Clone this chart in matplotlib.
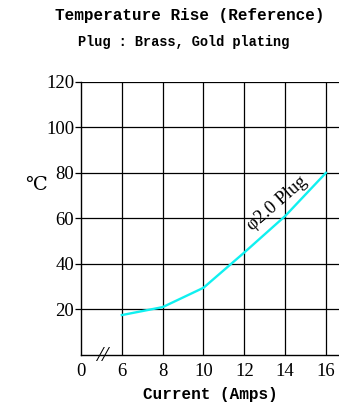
"""Temperature rise vs current for a 2.0 mm brass plug."""

import matplotlib
matplotlib.use('Agg')
import matplotlib.pyplot as plt

# ---------------------------------------------------------------------------
# Data
# ---------------------------------------------------------------------------

tick_labels = ['0', '6', '8', '10', '12', '14', '16']
current_amps = [6, 8, 10, 12, 14, 16]
temp_rise = [17.5, 21, 29.5, 45, 61, 80]
y_ticks = [20, 40, 60, 80, 100, 120]

SERIF = ['Liberation Serif', 'DejaVu Serif']
MONO = ['Liberation Mono', 'DejaVu Sans Mono']

# x axis is broken between 0 and 6, so ticks are placed by index
x_pos = [tick_labels.index(str(c)) for c in current_amps]

fig = plt.figure(figsize=(3.39, 4.07), dpi=100)
ax = fig.add_axes([0.239, 0.128, 0.761, 0.671])

for i in range(1, len(tick_labels)):
    ax.axvline(i, color='black', lw=0.9, zorder=1)
for y in y_ticks:
    ax.axhline(y, color='black', lw=0.9, zorder=1)

ax.plot(x_pos, temp_rise, color='#10F0F0', lw=1.7, zorder=3)

ax.set_xlim(0, 6.32)
ax.set_ylim(0, 120)
ax.set_xticks(range(len(tick_labels)))
ax.set_xticklabels(tick_labels, family=SERIF, fontsize=13.5)
ax.set_yticks(y_ticks)
ax.set_yticklabels([str(v) for v in y_ticks], family=SERIF, fontsize=13.5)
ax.tick_params(axis='x', length=0, pad=6)
ax.tick_params(axis='y', length=4, width=0.9, pad=1)

for side in ['top', 'right']:
    ax.spines[side].set_visible(False)
for side in ['left', 'bottom']:
    ax.spines[side].set_linewidth(1.0)

# axis break mark, slanted across the x axis
ax.text(0.52, -0.5, '//', family=SERIF, fontsize=16, style='italic',
        ha='center', va='center', clip_on=False)

ax.text(4.8, 66.5, '\u03c62.0 Plug', family=SERIF, fontsize=13.5,
        rotation=41, ha='center', va='center')

ax.set_xlabel('Current (Amps)', family=MONO, fontsize=11.5, labelpad=5,
              weight='bold')
fig.text(0.105, 0.545, '\u2103', family=SERIF, fontsize=14,
         ha='center', va='center')

fig.text(0.56, 0.962, 'Temperature Rise (Reference)', family=MONO,
         fontsize=11.5, ha='center', va='center', weight='bold')
fig.text(0.543, 0.897, 'Plug : Brass, Gold plating', family=MONO,
         fontsize=9.8, ha='center', va='center', weight='bold')

fig.savefig('out.png', dpi=100)
